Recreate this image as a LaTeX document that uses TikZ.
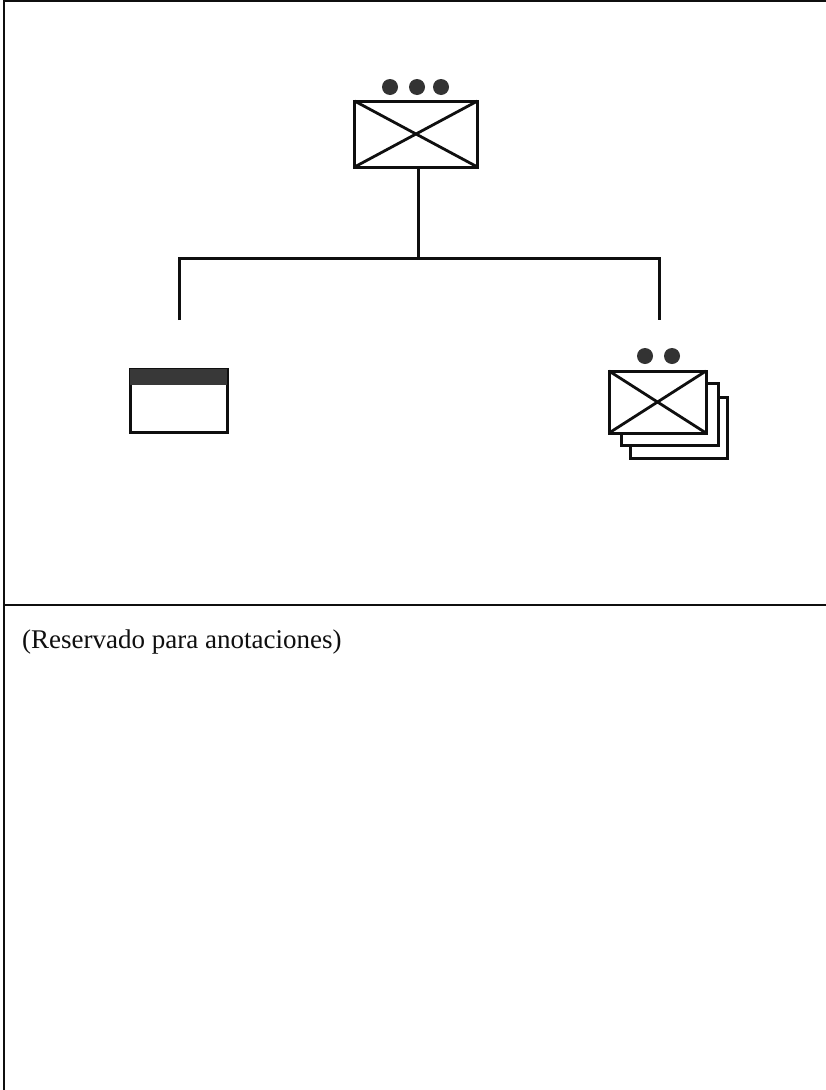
\documentclass[tikz,border=0pt]{standalone}
\usepackage{fontspec}
\setmainfont{Liberation Serif}
\definecolor{inkc}{gray}{0.06}
\definecolor{dotc}{gray}{0.2}
\definecolor{headc}{gray}{0.22}
\tikzset{
  x=1pt,y=-1pt,
  ink/.style={draw=inkc,line width=3pt},
  envbox/.style={ink,fill=white,minimum width=97pt,minimum height=62pt,inner sep=0pt,outer sep=0pt,rectangle},
  cross/.style={draw=inkc,line width=2.8pt},
  dotn/.style={circle,fill=dotc,draw=none,minimum size=16pt,inner sep=0pt},
  frameline/.style={draw=inkc,line width=2pt},
  wire/.style={draw=inkc,line width=3pt}
}
\begin{document}
\begin{tikzpicture}
\useasboundingbox (0,0) rectangle (826,1090);
\fill[white] (0,0) rectangle (826,1090);
% frame
\coordinate (ftl) at (4,1);
\coordinate (ftr) at (826,1);
\coordinate (fbl) at (4,1090);
\coordinate (fml) at (4,605);
\coordinate (fmr) at (826,605);
\draw[frameline] (ftr) -- (ftl) -- (fbl);
\draw[frameline] (fml) -- (fmr);
% top box
\node[envbox,minimum width=123pt,minimum height=66pt] (top) at (416,134) {};
\draw[cross] (top.north west) -- (top.south east);
\draw[cross] (top.south west) -- (top.north east);
\node[dotn] (d1) at (390,87) {};
\node[dotn] (d2) at (417,87) {};
\node[dotn] (d3) at (441,87) {};
% connectors
\coordinate (j) at (418,258);
\coordinate (jl) at (179,258);
\coordinate (jr) at (659,258);
\coordinate (el) at (179,320);
\coordinate (er) at (659,320);
\draw[wire] (top.south -| j) -- (j);
\draw[wire,line cap=butt] (el) -- (jl) -- (jr) -- (er);
% left window
\node[envbox,minimum height=63pt] (win) at (178.5,400.5) {};
\fill[headc] (win.north west) rectangle ([yshift=-16pt]win.north east);
% right stack
\node[envbox,minimum height=61pt] (s3) at (678.5,427.5) {};
\node[envbox,minimum height=62pt] (s2) at (669.5,414) {};
\node[envbox,minimum height=62pt] (s1) at (657.5,402) {};
\draw[cross] (s1.north west) -- (s1.south east);
\draw[cross] (s1.south west) -- (s1.north east);
\node[dotn] (d4) at (645,356) {};
\node[dotn] (d5) at (672,356) {};
% note
\node[anchor=base west,inner sep=0pt,font=\fontsize{27}{31}\selectfont,text=inkc] (note) at (22,648.5) {(Reservado para anotaciones)};
\end{tikzpicture}
\end{document}
